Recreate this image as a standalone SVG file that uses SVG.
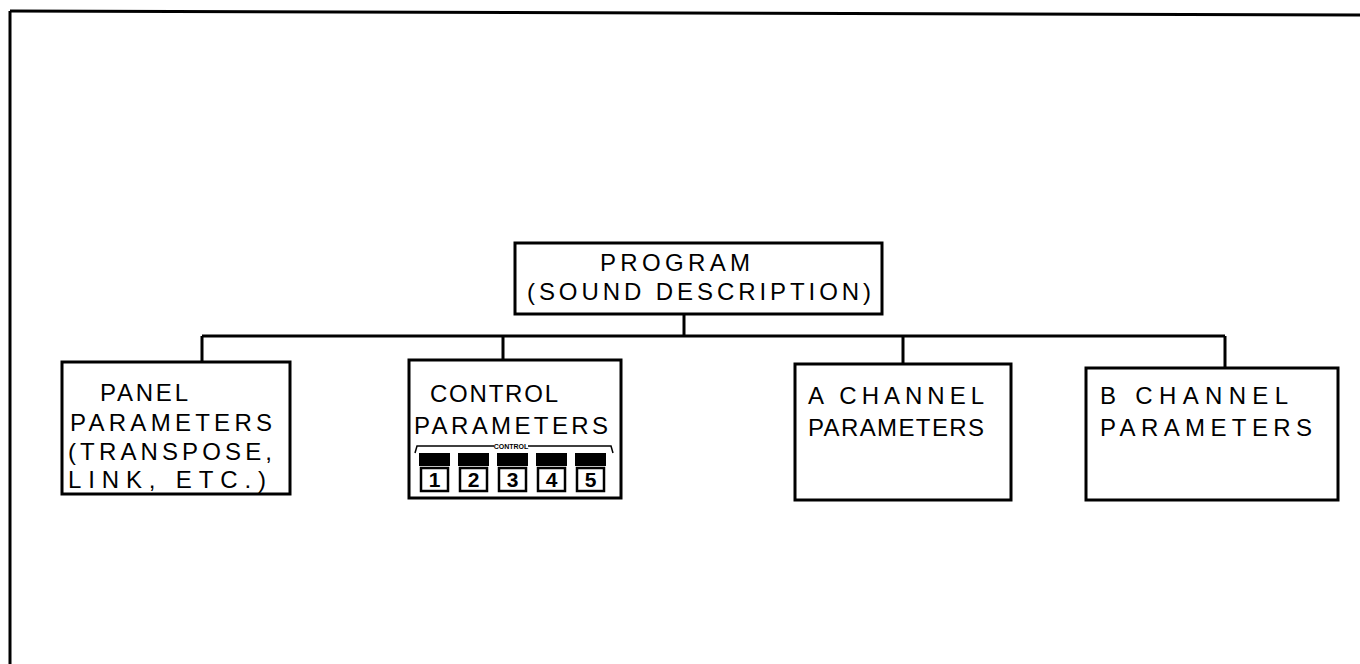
<svg xmlns="http://www.w3.org/2000/svg" width="1360" height="664" viewBox="0 0 1360 664">
<style>
.bx{fill:#fff;stroke:#000;stroke-width:3}
.ln{fill:none;stroke:#000;stroke-width:3}
.t{font-family:"Liberation Sans",Arial,sans-serif;font-size:24px;fill:#000}
.bl{fill:#000}
.nb{fill:#fff;stroke:#000;stroke-width:2.5}
.num{font-family:"Liberation Sans",Arial,sans-serif;font-weight:bold;font-size:21px;fill:#000;text-anchor:middle}
.sm{font-family:"Liberation Sans",Arial,sans-serif;font-weight:bold;font-size:7px;fill:#000;text-anchor:middle}
</style>
<rect width="1360" height="664" fill="#fff"/>
<g id="frame">
<path d="M10,11 L1360,15" class="ln"/>
<path d="M10,11 L10,664" class="ln" stroke-width="2.5"/>
</g>
<g id="connectors">
<path d="M684,314 V336" class="ln"/>
<path d="M202,336 H1225" class="ln"/>
<path d="M202,336 V362 M503,336 V360 M903,336 V364 M1225,336 V368" class="ln"/>
</g>
<g id="program">
<rect x="515" y="243" width="367" height="71" class="bx"/>
<text x="600" y="271" class="t" textLength="150" lengthAdjust="spacing">PROGRAM</text>
<text x="527" y="300" class="t" textLength="344" lengthAdjust="spacing">(SOUND DESCRIPTION)</text>
</g>
<g id="panel">
<rect x="62" y="362" width="228" height="132" class="bx"/>
<text x="100" y="401" class="t" textLength="88" lengthAdjust="spacing">PANEL</text>
<text x="70" y="431" class="t" textLength="202" lengthAdjust="spacing">PARAMETERS</text>
<text x="68" y="460" class="t" textLength="204" lengthAdjust="spacing">(TRANSPOSE,</text>
<text x="68" y="488" class="t" textLength="198" lengthAdjust="spacing">LINK, ETC.)</text>
</g>
<g id="control">
<rect x="409" y="360" width="212" height="138" class="bx"/>
<text x="430" y="402" class="t" textLength="128" lengthAdjust="spacing">CONTROL</text>
<text x="414" y="434" class="t" textLength="194" lengthAdjust="spacing">PARAMETERS</text>
<path d="M415,453 L417,446 H494 M528,446 H611 L613,453" fill="none" stroke="#000" stroke-width="1.5"/>
<text x="511" y="449" class="sm">CONTROL</text>
<g id="buttons">
<rect x="419" y="453" width="31" height="13" class="bl"/>
<rect x="458" y="453" width="31" height="13" class="bl"/>
<rect x="497" y="453" width="31" height="13" class="bl"/>
<rect x="536" y="453" width="31" height="13" class="bl"/>
<rect x="575" y="453" width="31" height="13" class="bl"/>
<rect x="421" y="468" width="27" height="23" class="nb"/>
<rect x="460" y="468" width="27" height="23" class="nb"/>
<rect x="499" y="468" width="27" height="23" class="nb"/>
<rect x="538" y="468" width="27" height="23" class="nb"/>
<rect x="577" y="468" width="27" height="23" class="nb"/>
<text x="434.5" y="487" class="num">1</text>
<text x="473.5" y="487" class="num">2</text>
<text x="512.5" y="487" class="num">3</text>
<text x="551.5" y="487" class="num">4</text>
<text x="590.5" y="487" class="num">5</text>
</g>
</g>
<g id="a-channel">
<rect x="795" y="364" width="216" height="136" class="bx"/>
<text x="808" y="404" class="t" textLength="176" lengthAdjust="spacing">A CHANNEL</text>
<text x="808" y="436" class="t" textLength="176" lengthAdjust="spacing">PARAMETERS</text>
</g>
<g id="b-channel">
<rect x="1086" y="368" width="252" height="132" class="bx"/>
<text x="1100" y="404" class="t" textLength="188" lengthAdjust="spacing">B CHANNEL</text>
<text x="1100" y="436" class="t" textLength="212" lengthAdjust="spacing">PARAMETERS</text>
</g>
</svg>
